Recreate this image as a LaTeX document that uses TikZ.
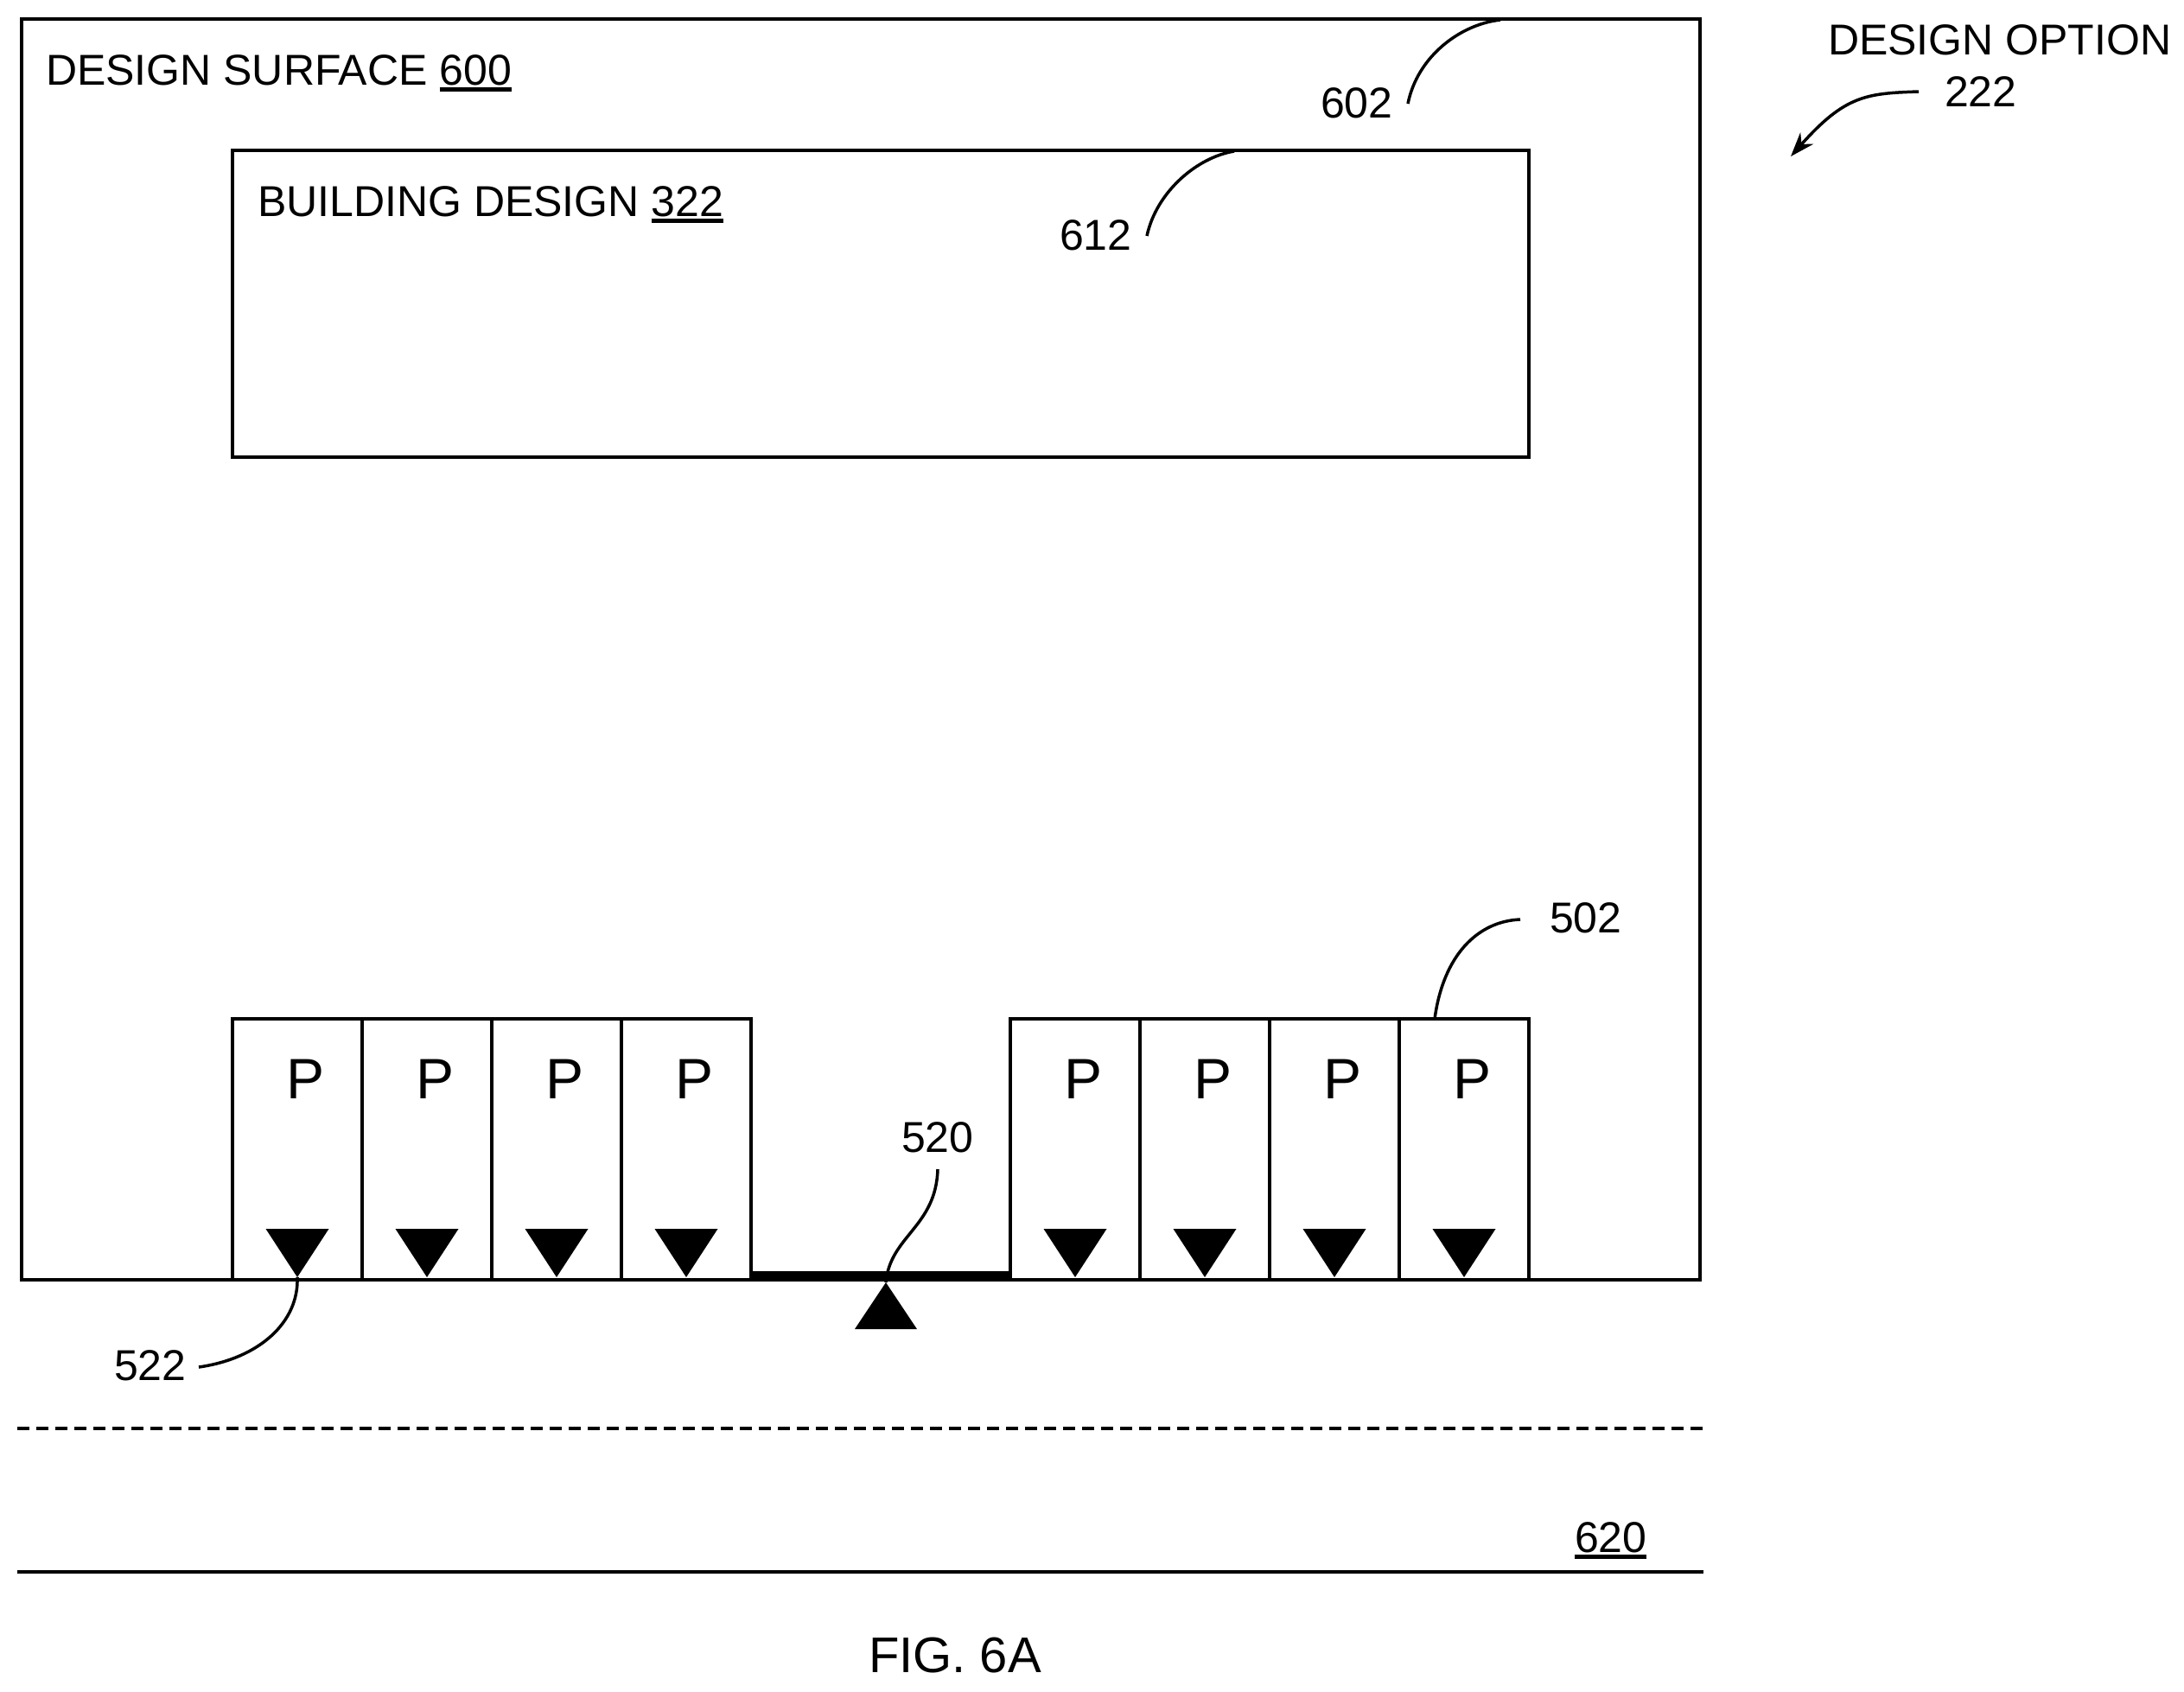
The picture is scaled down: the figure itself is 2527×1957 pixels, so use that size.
\documentclass[tikz,border=0pt]{standalone}
\usepackage{fontspec}
\setmainfont{Liberation Sans}
\usetikzlibrary{arrows.meta}
\newcommand{\ulnum}[1]{\setbox0\hbox{#1}\rlap{\rule[-8pt]{\wd0}{5pt}}\box0}
\tikzset{
  x=1pt,y=-1pt,
  boxed/.style={draw=black,line width=4pt,fill=white,inner sep=0pt,outer sep=0pt,anchor=north west,line join=miter},
  txt/.style={inner sep=0pt,outer sep=0pt,anchor=base west,font=\fontsize{50}{55}\selectfont,text=black},
  ptxt/.style={inner sep=0pt,outer sep=0pt,anchor=base west,font=\fontsize{66}{72}\selectfont,text=black},
  figtxt/.style={inner sep=0pt,outer sep=0pt,anchor=base west,font=\fontsize{58}{62}\selectfont,text=black},
  leader/.style={draw=black,line width=3.5pt},
  tri/.style={fill=black,draw=none}
}
\begin{document}
\begin{tikzpicture}
\useasboundingbox (0,0) rectangle (2527,1957);
\fill[white] (0,0) rectangle (2527,1957);
% surfaces
\node[boxed,minimum width=1942pt,minimum height=1459pt] (surface) at (25,22) {};
\node[boxed,minimum width=1500pt,minimum height=355pt] (building) at (269,174) {};
% parking stalls
\foreach \n/\px in {1/269,2/419,3/569,4/719,5/1169,6/1319,7/1469,8/1619}{
  \node[boxed,minimum width=150pt,minimum height=302pt] (stall\n) at (\px,1179) {};
  \node[ptxt] (p\n) at (\px+62.5,1271) {P};
  \coordinate (apex\n) at (\px+75,1478);
  \fill[tri] (\px+38.5,1422) -- (\px+111.5,1422) -- (apex\n) -- cycle;
}
% driveway
\fill[black] (stall4.south east) ++(0,-10) rectangle (stall5.south west);
\draw[line width=4pt] (surface.south west) -- (surface.south east);
\coordinate (entry) at (1025,1484);
\fill[tri] (entry) -- (989,1538) -- (1061,1538) -- cycle;
% ground
\coordinate (dashL) at (20,1653);
\coordinate (dashR) at (1971,1653);
\coordinate (solidL) at (20,1819);
\coordinate (solidR) at (1971,1819);
\draw[line width=4pt,dash pattern=on 14pt off 8pt] (dashL) -- (dashR);
\draw[line width=4pt] (solidL) -- (solidR);
% labels
\node[txt] (tsurface) at (53,98) {DESIGN SURFACE \ulnum{600}};
\node[txt] (tbuilding) at (298,250) {BUILDING DESIGN \ulnum{322}};
\node[txt] (toption) at (2115,63) {DESIGN OPTION};
\node[txt] (t222) at (2250,123) {222};
\node[txt] (t602) at (1528,136) {602};
\node[txt] (t612) at (1226,289) {612};
\node[txt] (t502) at (1793,1079) {502};
\node[txt] (t520) at (1043,1333) {520};
\node[txt] (t522) at (132,1597) {522};
\node[txt] (t620) at (1822,1796) {\ulnum{620}};
\node[figtxt] (tfig) at (1005,1935) {FIG. 6A};
% leaders
\coordinate (l602a) at (1629,120);
\coordinate (l602b) at (1736,23);
\coordinate (l612a) at (1327,273);
\coordinate (l612b) at (1428,175);
\coordinate (l502a) at (1759,1064);
\coordinate (l502b) at (1660,1179);
\coordinate (l520a) at (1085,1353);
\coordinate (l522a) at (230,1582);
\coordinate (l222a) at (2220,106);
\coordinate (l222b) at (2072,181);
\draw[leader] (l602a) .. controls (1640,65) and (1690,28) .. (l602b);
\draw[leader] (l612a) .. controls (1338,222) and (1385,182) .. (l612b);
\draw[leader] (l502a) .. controls (1710,1066) and (1670,1105) .. (l502b);
\draw[leader] (l520a) .. controls (1083,1420) and (1030,1430) .. (entry);
\draw[leader] (l522a) .. controls (300,1572) and (346,1530) .. (apex1);
\draw[leader,-{Stealth[length=28pt,width=20pt]}] (l222a) .. controls (2160,108) and (2135,110) .. (l222b);
\end{tikzpicture}
\end{document}
